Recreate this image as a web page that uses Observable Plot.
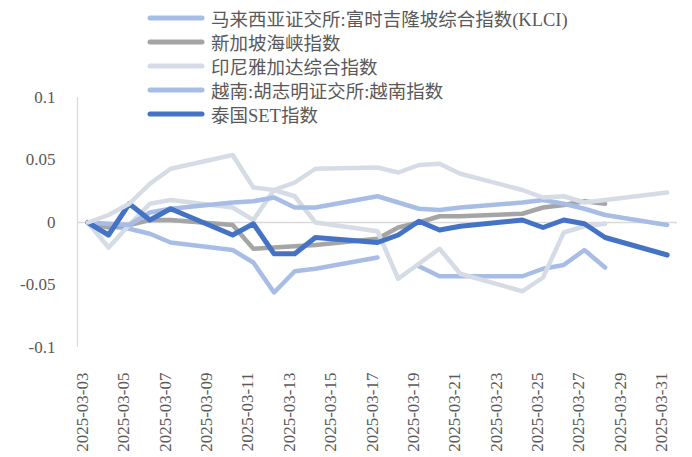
<!DOCTYPE html>
<html>
<head>
<meta charset="utf-8">
<script src="https://cdn.jsdelivr.net/npm/d3@7"></script>
<script src="https://cdn.jsdelivr.net/npm/@observablehq/plot@0.6"></script>
<style>
  html, body { margin: 0; padding: 0; background: #fff; }
  #wrap { position: relative; width: 692px; height: 457px; overflow: hidden; }
  #legend { position: absolute; left: 146px; top: 6px; font-family: 'Liberation Serif', 'Noto Sans CJK SC', serif; font-size: 18.5px; color: #595959; }
  #legend .row { display: flex; align-items: center; height: 24px; white-space: nowrap; }
  #legend svg { margin-right: 5px; }
</style>
</head>
<body>
<div id="wrap"><div id="legend"></div></div>
<script>
// Trading days
const dates = ["2025-03-03","2025-03-04","2025-03-05","2025-03-06","2025-03-07",
  "2025-03-10","2025-03-11","2025-03-12","2025-03-13","2025-03-14",
  "2025-03-17","2025-03-18","2025-03-19","2025-03-20","2025-03-21",
  "2025-03-24","2025-03-25","2025-03-26","2025-03-27","2025-03-28","2025-03-31"];

// Series values (cumulative return)
const klci    = [0, -0.003, -0.005, -0.009, -0.016, -0.022, -0.032, -0.056, -0.039, -0.037, -0.028, null, -0.035, -0.043, -0.043, -0.043, -0.037, -0.034, -0.022, -0.036, null];
const sti     = [0, -0.004, -0.002, 0.002, 0.002, -0.002, -0.021, -0.020, -0.019, -0.018, -0.013, -0.004, 0.000, 0.005, 0.005, 0.007, 0.012, 0.014, 0.017, 0.015, null];
const jci     = [0, -0.020, -0.002, 0.015, 0.018, 0.012, 0.002, 0.026, 0.021, 0.000, -0.007, -0.045, -0.033, -0.021, -0.041, -0.055, -0.044, -0.008, -0.003, -0.001, null];
const vni     = [0, -0.001, -0.002, 0.008, 0.011, 0.016, 0.017, 0.020, 0.012, 0.012, 0.021, 0.016, 0.011, 0.010, 0.012, 0.016, 0.018, 0.015, 0.011, 0.006, -0.002];
const setIdx  = [0, -0.010, 0.015, 0.002, 0.011, -0.010, -0.001, -0.025, -0.025, -0.012, -0.016, -0.010, 0.001, -0.006, -0.003, 0.002, -0.004, 0.002, -0.001, -0.012, -0.026];
const extra   = [0, 0.006, 0.015, 0.031, 0.043, 0.054, 0.028, 0.026, 0.032, 0.043, 0.044, 0.040, 0.046, 0.047, 0.039, 0.026, 0.020, 0.021, 0.016, 0.018, 0.024];

const seriesNames = ["马来西亚证交所:富时吉隆坡综合指数(KLCI)", "新加坡海峡指数", "印尼雅加达综合指数", "越南:胡志明证交所:越南指数", "泰国SET指数", "其他"];
const seriesValues = [klci, sti, jci, vni, setIdx, extra];
const inLegend = [true, true, true, true, true, false];

const xTickLabels = ["2025-03-03","2025-03-05","2025-03-07","2025-03-09","2025-03-11","2025-03-13","2025-03-15",
  "2025-03-17","2025-03-19","2025-03-21","2025-03-23","2025-03-25","2025-03-27","2025-03-29","2025-03-31"];
const yTicks = [-0.1, -0.05, 0, 0.05, 0.1];

// styles
const colors = ["#a8bde6", "#a5a5a5", "#d6dce5", "#a8bde6", "#4472c4", "#d6dce5"];
const widths = [4.5, 4.5, 4.5, 4.5, 5, 4.5];

const parse = d3.utcParse("%Y-%m-%d");
const fontFam = "'Liberation Serif', 'Noto Sans CJK SC', serif";

const lineMarks = seriesValues.map((vals, i) => {
  const rows = dates.map((d, j) => ({date: parse(d), value: vals[j] == null ? NaN : vals[j]}));
  return Plot.line(rows, {x: "date", y: "value", stroke: colors[i], strokeWidth: widths[i],
    strokeLinejoin: "round", strokeLinecap: "round"});
});

const chart = Plot.plot({
  width: 692,
  height: 457,
  marginLeft: 77,
  marginRight: 15,
  marginTop: 97,
  marginBottom: 110,
  style: {fontFamily: fontFam, background: "#fff"},
  x: {type: "utc", domain: [new Date(Date.UTC(2025,2,2,12)), new Date(Date.UTC(2025,2,31,12))], axis: null},
  y: {domain: [-0.1, 0.1], axis: null},
  marks: [
    Plot.ruleY([0], {stroke: "#d9d9d9", strokeWidth: 1.3}),
    Plot.ruleX([new Date(Date.UTC(2025,2,2,12))], {y1: -0.1, y2: 0.1, stroke: "#d9d9d9", strokeWidth: 1.3}),
    Plot.axisY({ticks: yTicks, tickSize: 0, tickPadding: 22, fontSize: 17, fill: "#595959",
      tickFormat: d => String(+d.toFixed(2)), label: null}),
    Plot.text(xTickLabels, {x: d => parse(d), text: d => d, frameAnchor: "bottom", rotate: -90,
      textAnchor: "end", dy: 25, fontSize: 17, fill: "#595959"}),
    ...lineMarks
  ]
});

const wrap = document.getElementById("wrap");
wrap.insertBefore(chart, wrap.firstChild);

const legend = document.getElementById("legend");
seriesNames.forEach((name, i) => {
  if (!inLegend[i]) return;
  const row = document.createElement("div");
  row.className = "row";
  row.innerHTML = `<svg width="60" height="10"><line x1="4" y1="5" x2="56" y2="5" stroke="${colors[i]}" stroke-width="5" stroke-linecap="round"/></svg><span>${name}</span>`;
  legend.appendChild(row);
});
</script>
</body>
</html>
